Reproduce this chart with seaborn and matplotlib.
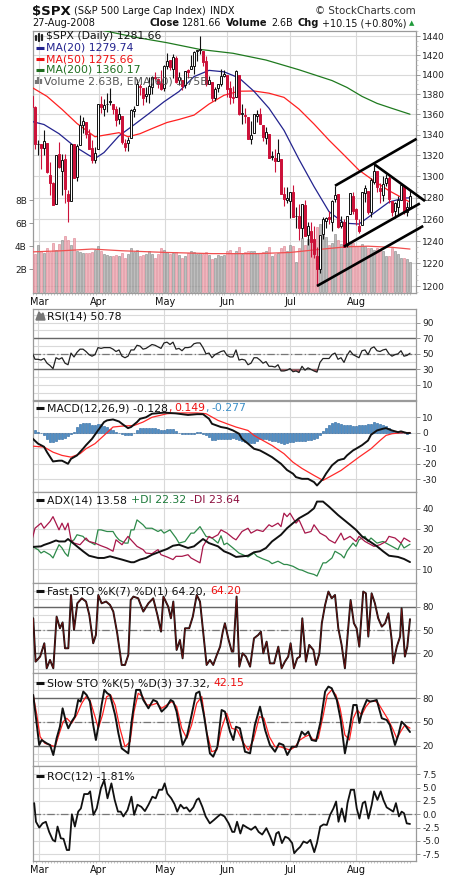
import numpy as np
import pandas as pd
import matplotlib
matplotlib.use('Agg')
from matplotlib import pyplot as plt
from matplotlib.lines import Line2D
from matplotlib.patches import Polygon
from matplotlib.ticker import NullLocator, NullFormatter
import seaborn as sns

# ---------------- data (trading days, 0 = 28-Feb-2008) ----------------
month_idx = [2, 22, 44, 65, 86, 108]
month_lbl = ['Mar', 'Apr', 'May', 'Jun', 'Jul', 'Aug']
prev_close0 = 1380.0

opens = [1378.0, 1367.6, 1330.5, 1331.3, 1327.0, 1332.2, 1301.5, 1293.2, 1274.4, 1321.1,
         1305.3, 1316.1, 1283.2, 1277.0, 1331.0, 1299.7, 1330.3, 1349.1, 1352.5, 1340.3,
         1327.0, 1315.9, 1326.4, 1370.0, 1365.7, 1369.9, 1373.7, 1370.2, 1365.5, 1355.4,
         1358.0, 1332.2, 1331.7, 1337.0, 1363.4, 1369.0, 1387.7, 1386.4, 1378.4, 1380.5,
         1387.9, 1398.0, 1395.6, 1391.2, 1386.0, 1409.2, 1415.3, 1405.6, 1417.5, 1394.3,
         1394.9, 1389.4, 1404.4, 1405.7, 1408.4, 1423.9, 1425.3, 1424.5, 1414.1, 1390.8,
         1392.2, 1376.0, 1386.5, 1390.5, 1398.4, 1399.6, 1386.4, 1376.3, 1377.5, 1400.1,
         1360.8, 1359.0, 1357.1, 1335.8, 1341.8, 1358.9, 1360.7, 1349.6, 1336.9, 1341.0,
         1319.8, 1317.2, 1314.5, 1316.3, 1283.6, 1278.1, 1276.7, 1285.0, 1263.0, 1262.9,
         1251.8, 1273.4, 1245.3, 1248.7, 1241.6, 1226.8, 1214.7, 1246.3, 1258.2, 1261.8,
         1257.1, 1278.9, 1283.2, 1253.5, 1257.8, 1236.4, 1264.5, 1281.4, 1269.4, 1253.3,
         1254.9, 1284.0, 1286.5, 1266.3, 1294.4, 1304.8, 1288.6, 1282.1, 1293.9, 1298.1,
         1276.7, 1267.3, 1271.1, 1277.6, 1290.5, 1267.0, 1271.3]
highs = [1378.0, 1368.0, 1335.1, 1331.3, 1344.2, 1332.2, 1313.2, 1295.0, 1320.7, 1333.3,
         1321.7, 1321.5, 1287.3, 1330.7, 1331.0, 1330.7, 1359.7, 1357.5, 1352.5, 1345.6,
         1334.9, 1328.5, 1370.2, 1378.0, 1375.7, 1380.9, 1386.7, 1370.2, 1368.4, 1367.2,
         1358.0, 1335.6, 1337.7, 1365.5, 1368.6, 1395.9, 1390.2, 1386.4, 1387.8, 1397.7,
         1399.1, 1402.9, 1397.0, 1404.6, 1410.1, 1422.7, 1415.3, 1421.6, 1419.5, 1402.4,
         1394.9, 1404.1, 1406.3, 1420.2, 1424.4, 1425.8, 1440.2, 1424.5, 1419.1, 1399.1,
         1392.2, 1387.4, 1391.0, 1406.3, 1404.5, 1399.6, 1393.1, 1388.2, 1405.0, 1400.1,
         1370.6, 1366.8, 1357.1, 1353.0, 1360.0, 1364.7, 1366.6, 1349.6, 1347.7, 1341.0,
         1323.8, 1326.0, 1335.6, 1316.3, 1289.5, 1290.3, 1285.3, 1292.2, 1271.3, 1274.0,
         1274.2, 1277.4, 1257.7, 1257.4, 1253.5, 1234.4, 1245.5, 1262.3, 1262.2, 1267.7,
         1277.4, 1291.2, 1283.2, 1263.2, 1260.1, 1263.2, 1284.3, 1284.9, 1270.5, 1260.5,
         1284.9, 1291.7, 1286.5, 1297.9, 1313.2, 1304.8, 1294.0, 1300.7, 1302.1, 1300.2,
         1276.7, 1276.0, 1281.8, 1293.2, 1290.5, 1275.9, 1287.0]
lows = [1363.2, 1326.5, 1320.0, 1307.0, 1320.3, 1303.4, 1282.4, 1272.7, 1274.4, 1307.9,
        1282.1, 1274.9, 1257.0, 1277.0, 1298.4, 1295.2, 1330.3, 1341.2, 1336.4, 1325.7,
        1313.0, 1312.8, 1326.4, 1361.6, 1358.7, 1362.8, 1369.0, 1360.6, 1348.1, 1350.1,
        1331.2, 1324.4, 1324.4, 1337.0, 1357.3, 1369.0, 1379.3, 1369.8, 1372.2, 1371.1,
        1379.9, 1394.4, 1386.7, 1384.1, 1383.1, 1406.3, 1404.4, 1397.1, 1391.2, 1389.4,
        1384.1, 1386.2, 1396.3, 1405.7, 1401.0, 1414.4, 1421.6, 1409.1, 1388.8, 1390.2,
        1373.7, 1373.1, 1382.2, 1388.6, 1398.1, 1377.8, 1370.1, 1371.7, 1377.5, 1359.9,
        1350.6, 1351.6, 1335.5, 1331.3, 1341.8, 1352.1, 1350.5, 1333.4, 1330.6, 1317.5,
        1315.3, 1304.4, 1314.5, 1283.2, 1272.0, 1274.9, 1260.7, 1261.5, 1252.0, 1240.7,
        1242.8, 1244.6, 1236.8, 1225.4, 1225.0, 1200.4, 1211.4, 1241.5, 1251.8, 1255.7,
        1248.8, 1276.1, 1251.5, 1251.8, 1234.4, 1234.4, 1264.5, 1265.1, 1254.5, 1247.5,
        1254.7, 1276.0, 1264.7, 1262.1, 1292.8, 1285.6, 1274.9, 1276.8, 1290.7, 1274.5,
        1263.1, 1261.2, 1264.0, 1277.6, 1264.9, 1263.2, 1270.4]
closes = [1367.7, 1330.6, 1331.3, 1326.8, 1333.7, 1304.3, 1293.4, 1273.4, 1320.7, 1308.8,
          1315.5, 1288.1, 1276.6, 1330.7, 1298.4, 1329.5, 1349.9, 1353.0, 1341.1, 1325.8,
          1315.2, 1322.7, 1370.2, 1367.5, 1369.3, 1370.4, 1372.5, 1365.5, 1354.5, 1360.6,
          1332.8, 1328.3, 1334.4, 1364.7, 1365.6, 1390.3, 1388.2, 1375.9, 1379.9, 1388.8,
          1397.8, 1396.4, 1390.9, 1385.6, 1409.3, 1413.9, 1407.5, 1418.3, 1392.6, 1397.7,
          1388.3, 1403.6, 1403.0, 1408.7, 1423.6, 1425.4, 1426.6, 1413.4, 1390.7, 1394.4,
          1375.9, 1385.4, 1390.8, 1398.3, 1400.4, 1385.7, 1377.7, 1377.2, 1404.1, 1360.7,
          1361.8, 1358.4, 1335.5, 1339.9, 1360.0, 1360.1, 1350.9, 1337.8, 1342.8, 1317.9,
          1318.0, 1314.3, 1322.0, 1283.2, 1278.4, 1280.0, 1284.9, 1261.5, 1262.9, 1252.3,
          1273.7, 1244.7, 1253.4, 1239.5, 1228.3, 1214.9, 1245.4, 1260.3, 1260.7, 1260.0,
          1277.0, 1282.2, 1252.5, 1257.8, 1234.4, 1263.2, 1284.3, 1267.4, 1260.3, 1249.0,
          1284.9, 1289.2, 1266.1, 1296.3, 1305.3, 1289.6, 1285.8, 1292.9, 1298.2, 1278.6,
          1266.7, 1274.5, 1277.7, 1292.2, 1266.8, 1271.5, 1281.66]
volume_b = [3.8, 3.3, 4.1, 3.6, 3.4, 3.8, 3.5, 4.3, 3.7, 4.2, 4.5, 4.9, 4.5, 4.1, 4.7, 3.6, 3.5, 3.4, 3.4, 3.4, 3.5, 3.7,
            4.0, 3.6, 3.3, 3.2, 3.1, 3.1, 3.2, 3.1, 3.4, 3.0, 3.3, 3.8, 3.5, 3.7, 3.1, 3.2, 3.3, 3.6, 3.3, 3.0, 3.3, 3.8,
            3.7, 3.5, 3.3, 3.4, 3.5, 3.2, 3.0, 3.1, 3.4, 3.6, 3.5, 3.3, 3.4, 3.3, 3.5, 3.2, 2.9, 3.0, 3.2, 3.1, 3.2,
            3.6, 3.7, 3.4, 3.6, 3.9, 3.3, 3.5, 3.6, 3.6, 3.6, 3.4, 3.4, 3.5, 3.6, 3.9, 3.1, 3.3, 3.4, 3.8, 4.0, 3.6,
            4.1, 4.0, 2.6, 3.8, 4.7, 4.1, 4.6, 4.5, 4.4, 5.7, 5.9, 5.1, 4.8, 4.1, 4.3, 5.1, 4.5, 4.2, 4.5, 4.6, 4.4, 4.3,
            4.0, 4.0, 4.2, 4.0, 3.8, 3.8, 3.7, 3.8, 3.7, 3.6, 3.1, 3.1, 3.8, 3.6, 3.3, 3.0, 3.0, 2.9, 2.63]
vema_day = [0, 10, 20, 30, 45, 60, 75, 86, 95, 105, 112, 120, 126]
vema_val = [3.5, 3.6, 3.75, 3.6, 3.45, 3.35, 3.35, 3.45, 3.7, 3.95, 4.0, 3.9, 3.75]

ma20_day = [0, 4, 9, 14, 19, 21, 24, 29, 34, 39, 44, 49, 54, 59, 64, 69, 74, 79, 84, 89, 94, 99, 104, 109, 114, 119, 124, 126]
ma20_val = [1353, 1350, 1341, 1329, 1320.0, 1316.9, 1322.7, 1338.9, 1349.7, 1360.9, 1372.6, 1382.9, 1398.0, 1404.4,
            1402.9, 1396.7, 1383.1, 1366.1, 1344.3, 1316.1, 1290.3, 1266.9, 1256.3, 1255.5, 1265.6, 1275.8, 1279.5, 1279.74]
ma50_day = [0, 5, 10, 15, 21, 25, 29, 32, 36, 40, 45, 49, 54, 59, 64, 69, 74, 79, 84, 89, 94, 99, 104, 109, 114, 119, 124, 126]
ma50_val = [1387, 1378, 1365, 1351, 1338, 1340, 1342, 1338, 1341, 1346, 1352, 1355, 1359.3, 1370.3, 1379.1, 1383.2,
            1383.4, 1381.2, 1377.0, 1365.3, 1350.5, 1334.7, 1320.3, 1305.8, 1295.6, 1286.4, 1278.8, 1275.66]
ma200_day = [0, 10, 22, 34, 45, 56, 67, 78, 89, 100, 105, 110, 115, 120, 126]
ma200_val = [1462, 1455, 1447, 1439, 1433, 1426, 1422, 1415, 1405, 1394, 1387, 1378, 1371, 1366, 1360.17]

# trend lines drawn on the chart: (day, price) -> (day, price)
trend_lines = [((101, 1291), (128.2, 1336)), ((104, 1235), (129.3, 1274.5)),
               ((95, 1200), (130.4, 1253.7)), ((114.3, 1311), (131, 1276.7))]

rsi = [52, 43, 43, 42, 44, 38, 35, 31, 45, 43, 45, 38, 36, 51, 46, 52, 56, 56, 53, 49,
       47, 49, 58, 57, 58, 58, 58, 56, 53, 55, 47, 45, 47, 55, 55, 61, 60, 56, 57, 59.5,
       62, 61, 59, 57, 64, 65, 62, 65, 56, 57, 54, 58, 58, 59, 63, 64, 64, 58, 50, 51,
       45, 49, 51, 53, 54, 48, 46, 46, 55, 42, 43, 42, 36, 38, 45, 45, 42, 38, 40, 34,
       34, 33, 36, 28, 28, 29, 31, 27, 28, 26, 34, 29, 32, 30, 28, 26.5, 39, 44, 44, 44,
       49, 51, 43, 45, 39, 48, 54, 49, 47, 45, 54, 55, 49, 57, 59, 54, 53, 55, 56, 50,
       47, 49, 50, 54, 47, 48, 50.78]

macd_day = [0, 2, 4, 5, 7, 9, 10, 12, 13, 15, 17, 18, 20, 22, 24, 25, 27, 29, 30, 32,
            33, 35, 36, 38, 40, 44, 48, 52, 55, 57, 59, 60, 63, 65, 67, 69, 70, 72, 74, 76,
            78, 80, 83, 85, 87, 88, 90, 92, 94, 95, 97, 98, 100, 102, 103, 104, 105, 107, 108, 110,
            112, 113, 115, 117, 118, 120, 122, 123, 125, 126]
macd_val = [-3.4, -7, -9, -12.5, -18.5, -18, -18, -20, -16.8, -14.6, -10.3, -8, -3.9, 1.5, 6.9, 8, 8.6, 7.3, 5.8, 3,
            3.7, 6.9, 9, 10, 12.3, 13, 12.5, 11.5, 12, 12, 9, 5.8, 3.7, 3, 1.5, -0.6, -3.9, -7, -10.3, -11.4,
            -13.5, -15.7, -20, -24, -26.4, -28.6, -29.7, -29.7, -31.8, -34, -29.7, -26.4, -21, -17.8, -17.2, -16.8, -14.6, -11.4, -10.3, -8,
            -5, -1.3, 1.5, 2.6, 3, 1.5, 0.4, 0.9, -0.2, -0.128]
sig_day = [0, 4, 7, 10, 13, 16, 18, 21, 24, 27, 30, 34, 37, 40, 45, 50, 55, 58, 62, 65,
           68, 72, 74, 77, 80, 84, 87, 90, 94, 97, 99, 103, 106, 109, 113, 116, 118, 120, 123, 126]
sig_val = [-8.6, -9.2, -12.5, -14.6, -15.7, -13.5, -10.3, -7, -1.7, 3.7, 4.3, 4.7, 6.9, 10, 12.3, 12.8, 12.8, 12.3, 8, 5.8,
           3.7, 1.5, -1.7, -5, -8.2, -13.5, -19, -23, -27.5, -30.7, -28.6, -24.3, -20, -15.7, -10.3, -5, -1.7, -0.6, 0, 0.149]
macd_hist = [5.8, 1.5, 0.8, 0, -1.7, -3.9, -6, -6, -5, -4.2, -3.9, -3.2, -2.2, -0.5, 0.8, 3.8, 5.8, 6.5, 6.5, 6.0,
             5.0, 5.0, 5.5, 5.6, 4.6, 3.7, 2.6, 1.6, 0.6, -0.4, -1.1, -1.5, -1.6, -1.2, -0.4, 1.5, 3.0, 3.2, 3.2, 3.2,
             3.1, 2.8, 2.2, 1.5, 1.9, 2.6, 2.6, 2.6, 1.3, -0.2, -0.9, -1.1, -1.1, -1.0, -0.5, 0.4, 0.4, -0.5, -1.5, -3.0,
             -4.5, -4.8, -4.2, -4.0, -4.2, -3.9, -3.9, -3.5, -3.8, -4.8, -5.4, -6.1, -6.9, -6.8, -6.3, -5.0, -4.3, -3.9, -4.2, -4.8,
             -5.0, -5.3, -5.8, -6.3, -7.0, -6.5, -6.0, -5.7, -5.6, -5.6, -5.3, -5.0, -4.8, -4.4, -3.8, -3.3, -1.7, 1.2, 3.4, 4.8,
             6.4, 7.1, 6.5, 5.6, 5.1, 4.7, 5.2, 4.4, 4.6, 5.0, 5.0, 5.2, 5.8, 5.8, 6.8, 6.5, 5.8, 5.3, 4.5, 3.0,
             1.6, 0.6, 0.4, 0.4, 0, -0.6, -0.277]

adx_day = [0, 3, 4, 6, 8, 9, 11, 12, 13, 15, 17, 19, 22, 24, 26, 28, 30, 33, 34, 36,
           38, 40, 43, 45, 47, 49, 52, 54, 56, 57, 59, 62, 64, 66, 68, 70, 72, 74, 76, 78,
           80, 83, 85, 87, 89, 92, 94, 95, 97, 99, 102, 104, 106, 108, 110, 113, 115, 117, 119, 122, 124, 126]
adx_val = [21, 21.3, 22, 23, 24.2, 23.7, 23.7, 24.9, 23.7, 21.3, 18.9, 16.7, 15.6, 15.6, 16.4, 15.6, 14.8, 13.5, 13.5, 14.8,
           15.6, 17.2, 18.9, 20, 21.6, 22.1, 20.5, 21.3, 23.7, 24.9, 22.9, 21.3, 18.9, 17.7, 16.1, 16.4, 16.7, 18.4, 18.9, 20.5,
           23.7, 27, 30.2, 32.7, 35.1, 37.6, 40, 43.3, 43.3, 40.8, 36.7, 34.3, 31.9, 29.4, 26.2, 23.3, 21.3, 18.9, 16.7, 16.1, 15.1, 13.58]
pdi_day = [0, 2, 3, 4, 6, 7, 8, 9, 10, 11, 12, 13, 14, 15, 17, 18, 20, 21, 22, 23,
           25, 27, 28, 29, 31, 32, 33, 34, 35, 37, 38, 40, 42, 43, 44, 46, 48, 49, 51, 53,
           54, 56, 57, 58, 60, 62, 63, 64, 65, 67, 69, 72, 74, 75, 77, 79, 80, 82, 84, 85,
           87, 89, 90, 92, 94, 95, 97, 98, 100, 101, 103, 104, 105, 107, 108, 109, 111, 112, 113, 115,
           117, 118, 120, 122, 123, 124, 126]
pdi_val = [21.3, 19.7, 18, 18.9, 17.2, 15.6, 18.9, 22.1, 20.5, 18, 16.4, 23.7, 24.5, 27, 26.2, 24.5, 22.9, 22.1, 29.4, 29.4,
           28.6, 28.6, 26.2, 24.5, 22.9, 22.9, 29.4, 29.4, 34.3, 31.9, 30.2, 30.2, 28.6, 29.4, 27.8, 29.4, 25.4, 22.9, 23.7, 27.8,
           27.8, 31, 28.6, 26.2, 25.4, 22.9, 26.5, 22.1, 22.9, 20.5, 18, 16.1, 18, 16.4, 15.1, 14, 12.8, 14, 12.4, 12.4,
           11.5, 9.9, 9.6, 8.3, 7.5, 6.7, 13.2, 13.2, 15.6, 18.9, 17.2, 15.6, 18.9, 22.9, 21.3, 24.5, 26.2, 23.7, 25.4, 22.9,
           23.7, 22.9, 21.3, 19.7, 22.9, 20.5, 22.32]
mdi_day = [0, 1, 3, 4, 6, 7, 9, 10, 11, 12, 13, 14, 16, 18, 19, 21, 23, 25, 27, 28,
           30, 32, 33, 35, 37, 38, 40, 42, 43, 45, 47, 48, 50, 52, 53, 55, 56, 57, 59, 60,
           62, 63, 65, 67, 68, 70, 72, 73, 75, 77, 79, 80, 82, 83, 84, 85, 86, 88, 89, 91,
           93, 94, 96, 98, 99, 101, 103, 104, 106, 108, 109, 111, 113, 114, 116, 118, 119, 121, 123, 124, 126]
mdi_val = [24.5, 30.2, 32.7, 30.2, 33.5, 35.9, 29.4, 32.7, 29.4, 32.7, 24.5, 22.9, 22.1, 25.4, 23.7, 22.9, 21.6, 20.5, 18.9, 24.5,
           22.1, 26.2, 24.5, 21.3, 19.7, 18, 17.7, 19.7, 17.2, 16.1, 14.8, 16.4, 16.4, 17.2, 15.6, 14, 13.2, 21.3, 26.2, 25.4,
           27, 29.4, 27.8, 25.4, 24.5, 28.6, 30.2, 27.8, 29.4, 28.6, 31.9, 31, 32.7, 31, 37.6, 35.9, 37.6, 32.7, 34.3, 27.8,
           28.6, 31.9, 27.8, 26.2, 24.5, 22.9, 27.8, 24.5, 26.2, 23.7, 26.2, 23.7, 22.1, 21.3, 22.1, 23.7, 26.2, 25.4, 22.9, 25.4, 23.64]

fsto_day = [0.4, 1.2, 2.7, 4.1, 4.9, 6.0, 7.1, 8.2, 9.3, 10.2, 11.0, 12.1, 13.0, 14.0, 15.1, 16.6, 18.0, 19.1, 20.4, 21.3,
            22.1, 23.2, 24.7, 26.0, 27.1, 28.4, 29.9, 31.0, 32.1, 32.9, 33.8, 35.4, 37.1, 38.8, 40.4, 41.8, 43.0, 43.8, 45.4, 46.3,
            47.1, 48.2, 49.3, 50.2, 51.0, 52.4, 53.6, 54.9, 56.0, 58.2, 59.3, 60.4, 61.6, 62.7, 63.6, 64.3, 65.4, 66.6, 67.1, 68.2,
            69.1, 70.2, 71.3, 72.7, 74.0, 75.4, 76.3, 77.1, 78.2, 79.3, 80.7, 82.1, 83.2, 84.3, 85.4, 86.2, 87.3, 88.4, 89.3, 90.1,
            91.3, 92.4, 93.8, 94.7, 95.8, 96.6, 97.7, 98.8, 99.9, 101.0, 102.1, 103.2, 104.3, 105.4, 106.2, 107.3, 108.2, 109.1, 110.4, 111.3,
            112.1, 113.2, 114.3, 115.4, 116.6, 117.7, 118.8, 119.9, 120.4, 121.6, 122.7, 123.2, 124.3, 125.1, 126.0]
fsto_val = [65.3, 9.2, 15.7, 33, 0.6, 11.4, 0.6, 67.5, 52.4, 60, 26.5, 26.5, 95.5, 50.2, 84.7, 91.2, 87, 69.6, 33, 43.7,
            95.5, 84.7, 87, 82.6, 74, 45.9, 4.9, 4.9, 17.8, 89, 93.4, 91.2, 74, 84.7, 91.2, 69.6, 48, 93.4, 80.4, 65.3,
            87, 24.3, 37.3, 13.5, 52.4, 52.4, 67.5, 95.5, 87, 4.9, 11.4, 4.9, 17.8, 28.6, 48, 58.9, 39.4, 22.2, 22.2, 93.4,
            2.7, 20, 15.7, 2.7, 39.4, 43.7, 48, 20, 35.1, 7, 7, 28.6, 0.6, 9.2, 15.7, 33, 0.6, 13.5, 15.7, 65.3,
            9.2, 30.8, 24.3, 4.9, 20, 58.9, 82.6, 99.9, 91.2, 95.5, 52.4, 30.8, 0.6, 52.4, 89, 58.9, 52.4, 28.6, 99.9, 97.7,
            41.6, 97.7, 84.7, 65.3, 54.5, 58.9, 71.8, 37.3, 7, 28.6, 41.6, 78.3, 15.7, 28.6, 64.2]

sk_day = [0.4, 1.6, 2.4, 3.2, 4.9, 6.0, 7.1, 8.2, 9.3, 10.2, 11.3, 12.1, 13.2, 14.3, 15.4, 16.2, 17.1, 18.2, 19.3, 20.4,
          21.3, 22.4, 23.2, 24.1, 25.1, 26.0, 27.7, 28.8, 29.9, 32.1, 33.2, 34.7, 36.0, 37.1, 38.8, 40.4, 41.6, 43.2, 44.9, 46.2,
          47.1, 48.2, 50.2, 51.6, 53.2, 54.7, 55.8, 57.3, 59.3, 60.4, 61.8, 63.2, 64.3, 66.0, 67.1, 68.0, 69.3, 71.0, 72.7, 74.3,
          76.0, 77.7, 79.3, 81.0, 82.4, 83.8, 85.1, 86.6, 88.2, 89.9, 91.0, 92.1, 93.2, 94.7, 96.2, 97.7, 98.8, 99.9, 101.6, 102.9,
          104.3, 105.8, 107.1, 108.2, 109.1, 110.2, 111.6, 112.7, 113.8, 114.9, 116.6, 118.2, 119.3, 121.0, 122.1, 123.2, 124.3, 126.0]
sk_val = [84.2, 46.2, 20.9, 27.2, 23, 20.9, 8.2, 29.3, 44, 67.3, 50.4, 42, 50.4, 56.8, 77.9, 75.8, 88.5, 84.2, 75.8, 46.2,
          27.2, 50.4, 71.5, 90.6, 86.3, 84.2, 58.9, 35.6, 16.6, 10.3, 50.4, 90.6, 90.6, 77.9, 67.3, 77.9, 75.8, 63.1, 69.4, 77.9,
          75.8, 63.1, 20.9, 31.4, 58.9, 86.3, 88.5, 58.9, 10.3, 6.1, 18.7, 65.2, 63.1, 37.8, 27.2, 44, 42, 12.4, 10.3, 46.2,
          69.4, 39.9, 20.9, 12.4, 23, 20.9, 8.2, 18.7, 18.7, 37.8, 33.6, 37.8, 27.2, 25.9, 50.4, 88.5, 94.8, 92.7, 77.9, 52.6,
          10.3, 39.9, 71.5, 71.5, 48.8, 65.2, 77.9, 75.8, 76.6, 77.9, 54.7, 52.6, 46.2, 20.9, 33.6, 50.4, 46.2, 37.32]
sd_day = [0.4, 1.6, 2.7, 4.3, 6.0, 7.7, 9.1, 10.4, 11.6, 13.2, 14.9, 16.6, 18.0, 19.3, 21.0, 22.1, 23.5, 24.9, 26.2, 27.7,
          29.3, 31.0, 32.7, 34.0, 35.4, 36.9, 38.2, 39.9, 41.6, 43.2, 44.9, 46.6, 48.2, 49.9, 51.6, 53.2, 54.9, 56.6, 58.2, 59.9,
          61.6, 63.2, 64.9, 66.6, 68.4, 70.2, 72.1, 73.8, 75.8, 77.3, 79.1, 81.0, 82.7, 84.3, 86.0, 87.7, 89.3, 91.0, 92.4, 93.8,
          95.4, 97.1, 98.4, 99.9, 101.3, 102.7, 104.3, 105.8, 107.1, 108.4, 109.9, 111.3, 112.7, 114.3, 115.4, 117.1, 118.8, 120.4, 121.6, 123.2,
          124.3, 126.0]
sd_val = [84, 58.9, 31.4, 23, 20.9, 18.7, 35.6, 50.4, 54.7, 48.4, 58.9, 73.7, 82.1, 77.9, 56.8, 42, 58.9, 82.1, 84.2, 71.5,
          42, 18.7, 25.1, 63.1, 86.3, 82.1, 71.5, 71.5, 73.7, 67.3, 71.5, 75.8, 69.4, 42, 29.3, 46.2, 73.7, 82.1, 37.8, 12.4,
          14.5, 42, 61, 42, 39.9, 25.1, 14.5, 27.2, 56.8, 54.7, 31.4, 18.7, 18.7, 16.6, 14.5, 18.7, 27.2, 31.4, 33.6, 27.2,
          29.3, 58.9, 84.2, 90.6, 84.2, 67.3, 33.6, 27.2, 54.7, 65.2, 58.9, 69.4, 75.8, 76.6, 73.7, 63.1, 52.6, 39.9, 29.3, 39.9,
          46.2, 42.15]

roc_day = [0.4, 1.0, 2.1, 3.2, 4.3, 5.4, 6.6, 7.4, 8.2, 9.3, 10.2, 11.3, 12.1, 13.0, 14.0, 15.1, 16.0, 17.1, 18.4, 19.1,
           20.2, 21.3, 22.7, 23.8, 24.9, 26.2, 27.3, 28.4, 29.3, 30.2, 31.6, 32.9, 33.8, 34.9, 36.2, 37.4, 38.6, 39.9, 41.0, 42.1,
           43.2, 44.0, 44.9, 46.2, 47.3, 48.2, 49.3, 50.4, 51.3, 52.4, 53.6, 54.7, 55.4, 56.6, 57.7, 59.1, 60.4, 61.8, 62.7, 64.0,
           65.4, 66.6, 67.3, 68.2, 69.3, 70.2, 71.6, 72.9, 74.3, 75.4, 76.6, 78.0, 79.3, 80.4, 81.3, 82.1, 83.2, 84.3, 85.4, 86.6,
           87.3, 88.2, 89.3, 90.4, 91.6, 92.7, 94.0, 94.9, 96.0, 97.1, 98.2, 99.3, 100.4, 101.3, 102.1, 103.2, 104.3, 105.1, 106.2, 107.3,
           108.2, 109.1, 110.2, 111.0, 112.1, 113.2, 114.0, 115.1, 116.2, 117.1, 118.2, 119.6, 120.4, 121.3, 122.3, 123.2, 124.0, 124.9, 126.0]
roc_val = [2.1, -1.4, -2.5, -1.7, -1.4, -3.3, -4.8, -5.1, -2.3, -4.5, -4.6, -6.7, -6.7, 0, -2.3, 0.5, 1.1, 3.8, 3.8, 4.3,
           -0.1, 1.1, 4.9, 6.4, 3, 5.8, 2.7, 0.5, 0.5, -0.4, 0.8, 3.3, -0.1, 1.8, 1.4, 0.6, 1.8, 3.3, 3, 4.6,
           4.6, 5.8, 3.9, 3, 1.9, 0.5, 1.8, 1.1, 1.3, 0.5, 1.3, 2.7, 3, 1.4, -0.4, -1.7, -1.1, -0.4, 0, -0.4,
           -1.7, -3.3, -3.3, -1.4, -3.6, -2, -2.5, -2.9, -2.3, -3.3, -3.8, -2.6, -4.2, -5.8, -3.6, -3.3, -5.4, -4.2, -4.5, -5.4,
           -7.3, -6.7, -6.1, -5.1, -5.4, -4.8, -7.1, -5.4, -2.3, -1.9, -2, -0.1, 1.1, 2.4, -1.4, 1.1, -1.4, 2.1, 4.6, 4.6,
           1.1, -0.8, 2.1, 2.4, -0.8, 1.8, 4.3, 2.7, 4.3, 2.7, 1.3, 0.8, 0.5, 2.1, -0.4, 0.5, 0.2, -1.7, -1.81]

# ---------------- figure ----------------
sns.set_theme(style='white')
plt.rcParams['font.family'] = ['DejaVu Sans']

W, H = 460, 880
L, R = 33, 416
XLO, XHI = 0.33, 128.0
RED = '#cc1139'
GRID = '#d9d9d9'
FRAME = '#9a9a9a'
TICK_FS = 6.5
LEG_FS = 7.8

fig = plt.figure(figsize=(W / 100, H / 100), dpi=100)
rend = fig.canvas.get_renderer()
days = np.arange(len(closes))


def rect(top, bottom):
    return [L / W, 1 - bottom / H, (R - L) / W, (bottom - top) / H]


def rich(x, y, parts):
    # parts: (text, colour, weight, size, gap in px before it)
    for txt, col, wt, size, gap in parts:
        x += gap
        t = fig.text(x / W, 1 - y / H, txt, color=col, fontweight=wt, fontsize=size,
                     va='center', ha='left', zorder=20)
        x = t.get_window_extent(renderer=rend).x1


def dash(x, y, col):
    fig.add_artist(Line2D([x / W, (x + 8) / W], [1 - y / H, 1 - y / H], color=col, lw=2.2,
                          solid_capstyle='butt', zorder=20))


def panel(top, bottom, ylim, ticks, labels, grid, month_labels=False):
    ax = fig.add_axes(rect(top, bottom))
    ax.set_xlim(XLO, XHI)
    ax.set_ylim(*ylim)
    for s in ax.spines.values():
        s.set_color(FRAME)
        s.set_linewidth(0.9)
    for g in grid:
        ax.axhline(g, color=GRID, lw=0.8, zorder=0)
    for m in month_idx:
        ax.axvline(m, color=GRID, lw=0.8, zorder=0)
    ax.yaxis.tick_right()
    ax.set_yticks(ticks)
    ax.set_yticklabels(labels, fontsize=TICK_FS)
    ax.yaxis.set_minor_locator(NullLocator())
    ax.tick_params(axis='y', length=3, width=0.6, color='#888888', labelcolor='#222222', pad=1.5, right=True, left=False)
    if month_labels:
        ax.set_xticks(month_idx)
        ax.set_xticklabels(month_lbl, fontsize=7)
        ax.set_xticks(days, minor=True)
        ax.tick_params(axis='x', which='major', length=0, pad=3, labelcolor='#111111')
        ax.tick_params(axis='x', which='minor', bottom=True, length=1.5, width=0.5, color='#b0b0b0')
    else:
        ax.set_xticks([])
    return ax


def tidy(ax):
    ax.set_xlabel('')
    ax.set_ylabel('')


def line(ax, x, y, color, lw, z=3):
    sns.lineplot(x=x, y=y, ax=ax, color=color, linewidth=lw, estimator=None, sort=False, legend=False, zorder=z)
    tidy(ax)


# ---------- main price panel ----------
p_lo, p_hi = 1193.9, 1445.3
price_ticks = list(range(1200, 1441, 20))
ax_g = panel(31, 293, (p_lo, p_hi), [], [], [], month_labels=True)
ax_g.set_yscale('log')
ax_g.set_ylim(p_lo, p_hi)
ax_g.yaxis.set_minor_locator(NullLocator())
ax_g.set_yticks([])
for pt in price_ticks:
    ax_g.axhline(pt, color=GRID, lw=0.8, zorder=0)

ax_v = fig.add_axes(rect(31, 293))
ax_v.patch.set_visible(False)
ax_v.set_xlim(XLO, XHI)
ax_v.set_ylim(-0.09, 22.8)
prev = [prev_close0] + closes[:-1]
up = np.array(closes) >= np.array(prev)
ax_v.bar(days, volume_b, width=0.88, alpha=0.85,
         color=np.where(up, '#b3b3b3', '#eeaab3'), edgecolor=np.where(up, '#8a8a8a', '#dd8593'), linewidth=0.5, zorder=2)
line(ax_v, vema_day, vema_val, '#f05050', 0.9)
ax_v.set_yticks([2, 4, 6, 8])
ax_v.set_yticklabels(['2B', '4B', '6B', '8B'], fontsize=TICK_FS)
ax_v.tick_params(axis='y', length=3, width=0.6, color='#888888', labelcolor='#222222', pad=1.5, left=True, right=False)
ax_v.set_xticks([])
for s in ax_v.spines.values():
    s.set_visible(False)

ax_p = fig.add_axes(rect(31, 293))
ax_p.patch.set_visible(False)
ax_p.set_yscale('log')
ax_p.set_xlim(XLO, XHI)
ax_p.set_ylim(p_lo, p_hi)
for s in ax_p.spines.values():
    s.set_visible(False)
cols = np.where(up, '#111111', RED)
o = np.array(opens)
c = np.array(closes)
ax_p.vlines(days, lows, highs, colors=cols, lw=0.8, zorder=4)
body_lo = np.minimum(o, c)
body_h = np.maximum(np.abs(c - o), 0.4)
faces = np.where(c >= o, 'white', cols)
ax_p.bar(days, body_h, bottom=body_lo, width=0.72, color=faces, edgecolor=cols, linewidth=0.7, zorder=5)
line(ax_p, ma200_day, ma200_val, '#1f7a1f', 0.9, 3)
line(ax_p, ma50_day, ma50_val, '#ff2020', 0.9, 3)
line(ax_p, ma20_day, ma20_val, '#23238e', 0.9, 3)
for (x0, y0), (x1, y1) in trend_lines:
    ax_p.plot([x0, x1], [y0, y1], color='black', lw=1.9, solid_capstyle='butt', clip_on=False, zorder=6)
ax_p.yaxis.tick_right()
ax_p.set_yticks(price_ticks)
ax_p.set_yticklabels([str(v) for v in price_ticks], fontsize=TICK_FS)
ax_p.set_yticks(list(range(1195, 1446, 5)), minor=True)
ax_p.yaxis.set_minor_formatter(NullFormatter())
ax_p.tick_params(axis='y', length=3, width=0.6, color='#888888', labelcolor='#222222', pad=1.5, right=True, left=False)
ax_p.tick_params(axis='y', which='minor', length=1.5, width=0.5, color='#bbbbbb', right=True, left=False)
ax_p.set_xticks([])

# main legend
for k, hgt in enumerate([4, 7, 5]):
    fig.add_artist(Line2D([(36 + 3 * k) / W] * 2, [1 - (38 + hgt / 2) / H, 1 - (38 - hgt / 2) / H],
                          color='#222222', lw=1.6, zorder=20))
rich(46, 36, [('$SPX (Daily) 1281.66', '#111111', 'normal', LEG_FS, 0)])
dash(36, 48, '#23238e')
rich(46, 48, [('MA(20) 1279.74', '#23238e', 'normal', LEG_FS, 0)])
dash(36, 59, '#ee1111')
rich(46, 59, [('MA(50) 1275.66', '#ee1111', 'normal', LEG_FS, 0)])
dash(36, 70, '#1f6e1f')
rich(46, 70, [('MA(200) 1360.17', '#1f6e1f', 'normal', LEG_FS, 0)])
for k, hgt in enumerate([4, 7, 5]):
    fig.add_artist(Line2D([(36 + 2.5 * k) / W] * 2, [1 - 84 / H, 1 - (84 - hgt) / H], color='#777777', lw=1.6,
                          solid_capstyle='butt', zorder=20))
rich(44, 81, [('Volume 2.63B, EMA(60) 3.75B', '#555555', 'normal', LEG_FS, 0)])

# ---------- RSI ----------
ax = panel(309, 400, (-9.3, 107.6), [10, 30, 50, 70, 90], ['10', '30', '50', '70', '90'], range(0, 101, 10))
ax.axhline(70, color='#666666', lw=1.0, zorder=1)
ax.axhline(30, color='#666666', lw=1.0, zorder=1)
ax.axhline(50, color='#777777', lw=0.9, ls=(0, (6, 2, 1, 2)), zorder=1)
rsi_a = np.array(rsi)
ax.fill_between(days, rsi_a, 30, where=rsi_a < 30, interpolate=True, color='#b35a63', lw=0, zorder=2)
line(ax, days, rsi, '#222222', 0.9)
fig.add_artist(Polygon([[36 / W, 1 - 320 / H], [39 / W, 1 - 312 / H], [41 / W, 1 - 315 / H], [43 / W, 1 - 313 / H],
                        [45 / W, 1 - 320 / H]], closed=True, color='#777777', zorder=20))
rich(47, 316, [('RSI(14) 50.78', '#111111', 'normal', LEG_FS, 0)])

# ---------- MACD ----------
ax = panel(401, 492, (-38.2, 20.5), [-30, -20, -10, 0, 10], ['-30', '-20', '-10', '0', '10'], [-30, -20, -10, 0, 10])
ax.bar(days, macd_hist, width=0.85, color='#4f8ec6', edgecolor='#24609a', linewidth=0.4, zorder=2)
line(ax, sig_day, sig_val, '#ff2a2a', 0.9)
line(ax, macd_day, macd_val, '#111111', 1.4, 4)
dash(36, 408, '#111111')
rich(47, 408, [('MACD(12,26,9) -0.128', '#111111', 'normal', LEG_FS, 0), (',', '#ee1111', 'normal', LEG_FS, 0),
               ('0.149', '#ee1111', 'normal', LEG_FS, 3), (',', '#3c8fc8', 'normal', LEG_FS, 0),
               ('-0.277', '#3c8fc8', 'normal', LEG_FS, 3)])

# ---------- ADX ----------
ax = panel(492, 583, (3.3, 48), [10, 20, 30, 40], ['10', '20', '30', '40'], [10, 20, 30, 40])
line(ax, pdi_day, pdi_val, '#2e8a4a', 0.9)
line(ax, mdi_day, mdi_val, '#a8174a', 0.9)
line(ax, adx_day, adx_val, '#111111', 1.4, 4)
dash(36, 500, '#111111')
rich(47, 500, [('ADX(14) 13.58', '#111111', 'normal', LEG_FS, 0), ('+DI 22.32', '#1d7a3a', 'normal', LEG_FS, 4),
               ('-DI 23.64', '#8c0f3e', 'normal', LEG_FS, 4)])

# ---------- Fast STO ----------
ax = panel(583, 673, (-5.5, 111), [20, 50, 80], ['20', '50', '80'], range(0, 101, 10))
ax.axhline(80, color='#666666', lw=1.0, zorder=1)
ax.axhline(20, color='#666666', lw=1.0, zorder=1)
ax.axhline(50, color='#777777', lw=0.9, ls=(0, (6, 2, 1, 2)), zorder=1)
line(ax, fsto_day, fsto_val, '#111111', 1.4)
line(ax, fsto_day, fsto_val, '#7a1010', 0.5, 4)
dash(36, 591, '#111111')
rich(47, 591, [('Fast STO %K(7) %D(1) 64.20,', '#111111', 'normal', LEG_FS, 0), ('64.20', '#ee1111', 'normal', LEG_FS, 4)])

# ---------- Slow STO ----------
ax = panel(673, 766, (-5.7, 112), [20, 50, 80], ['20', '50', '80'], range(0, 101, 10))
ax.axhline(80, color='#666666', lw=1.0, zorder=1)
ax.axhline(20, color='#666666', lw=1.0, zorder=1)
ax.axhline(50, color='#777777', lw=0.9, ls=(0, (6, 2, 1, 2)), zorder=1)
line(ax, sd_day, sd_val, '#ff2020', 0.9)
line(ax, sk_day, sk_val, '#111111', 1.4, 4)
dash(36, 683, '#111111')
rich(47, 683, [('Slow STO %K(5) %D(3) 37.32,', '#111111', 'normal', LEG_FS, 0), ('42.15', '#ee1111', 'normal', LEG_FS, 4)])

# ---------- ROC ----------
roc_ticks = [-7.5, -5.0, -2.5, 0.0, 2.5, 5.0, 7.5]
ax = panel(766, 861, (-8.76, 9.06), roc_ticks, ['%.1f' % v for v in roc_ticks], roc_ticks, month_labels=True)
ax.axhline(0, color='#777777', lw=0.9, ls=(0, (6, 2, 1, 2)), zorder=1)
line(ax, roc_day, roc_val, '#111111', 1.3)
dash(36, 776, '#111111')
rich(47, 776, [('ROC(12) -1.81%', '#111111', 'normal', LEG_FS, 0)])

# ---------- header ----------
rich(32, 11, [('$SPX', '#111111', 'bold', 9.5, 0), ('(S&P 500 Large Cap Index)', '#111111', 'normal', 7.0, 3),
              ('INDX', '#111111', 'normal', 7.0, 5)])
fig.text(416 / W, 1 - 11 / H, '\u00a9 StockCharts.com', fontsize=7.4, color='#333333', ha='right', va='center')
rich(32, 23, [('27-Aug-2008', '#111111', 'normal', 7.0, 0)])
rich(149, 23, [('Close', '#111111', 'bold', 7.1, 0), ('1281.66', '#111111', 'normal', 6.9, 3),
               ('Volume', '#111111', 'bold', 7.1, 5), ('2.6B', '#111111', 'normal', 6.9, 3),
               ('Chg', '#111111', 'bold', 7.1, 5), ('+10.15 (+0.80%)', '#111111', 'normal', 6.9, 3),
               ('\u25b2', '#1f9a3a', 'normal', 5, 3)])

fig.savefig('out.png', dpi=100)
